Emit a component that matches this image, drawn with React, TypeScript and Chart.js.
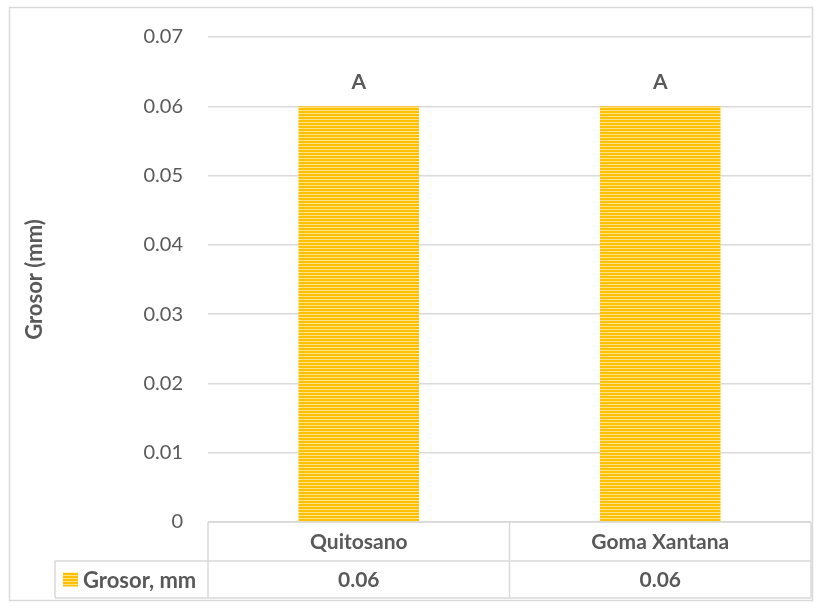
import React, { useEffect, useRef } from "react";
import { Chart, registerables } from "chart.js";

Chart.register(...registerables);

const categories = ["Quitosano", "Goma Xantana"];
const grosorValues = [0.06, 0.06];
const letterLabels = ["A", "A"];
const seriesName = "Grosor, mm";
const yAxisTitle = "Grosor (mm)";
const yMin = 0;
const yMax = 0.07;
const yStep = 0.01;

const FONT = "Lato, 'Open Sans', sans-serif";
const TEXT = "#595959";
const LINE = "#d9d9d9";

function makeStripes(ctx: CanvasRenderingContext2D): CanvasPattern | string {
  const c = document.createElement("canvas");
  c.width = 4;
  c.height = 3;
  const g = c.getContext("2d");
  if (!g) return "#FFC000";
  g.fillStyle = "#FFC000";
  g.fillRect(0, 0, 4, 2);
  g.fillStyle = "#FFE38C";
  g.fillRect(0, 2, 4, 1);
  return ctx.createPattern(c, "repeat") || "#FFC000";
}

const tablePlugin = {
  id: "dataTable",
  beforeDraw(chart: any) {
    const ctx = chart.ctx as CanvasRenderingContext2D;
    ctx.save();
    ctx.strokeStyle = LINE;
    ctx.lineWidth = 1.5;
    ctx.strokeRect(9.5, 7.5, 803, 593);
    ctx.restore();
  },
  afterDraw(chart: any) {
    const ctx = chart.ctx as CanvasRenderingContext2D;
    const area = chart.chartArea;
    const xs = chart.scales.x;
    const ys = chart.scales.y;
    const left = area.left;
    const right = area.right;
    const top = area.bottom;
    const row1 = top + 39;
    const row2 = row1 + 37;
    const legendLeft = 55;
    const colW = (right - left) / categories.length;

    ctx.save();
    ctx.strokeStyle = LINE;
    ctx.lineWidth = 1.5;
    ctx.beginPath();
    ctx.moveTo(left, top);
    ctx.lineTo(right, top);
    ctx.moveTo(legendLeft, row1);
    ctx.lineTo(right, row1);
    ctx.moveTo(legendLeft, row2);
    ctx.lineTo(right, row2);
    ctx.moveTo(legendLeft, row1);
    ctx.lineTo(legendLeft, row2);
    for (let i = 0; i <= categories.length; i++) {
      const x = left + colW * i;
      ctx.moveTo(x, top);
      ctx.lineTo(x, row2);
    }
    ctx.stroke();

    ctx.fillStyle = TEXT;
    ctx.font = `bold 21px ${FONT}`;
    ctx.textAlign = "center";
    ctx.textBaseline = "middle";
    categories.forEach((c, i) => {
      const cx = xs.getPixelForValue(i);
      ctx.fillText(c, cx, (top + row1) / 2 + 1);
      ctx.fillText(grosorValues[i].toFixed(2), cx, (row1 + row2) / 2 + 1);
    });

    // legend key inside the table
    ctx.fillStyle = chart.data.datasets[0].backgroundColor;
    ctx.fillRect(63, (row1 + row2) / 2 - 7, 15, 14);
    ctx.fillStyle = TEXT;
    ctx.textAlign = "left";
    ctx.font = `bold 22px ${FONT}`;
    ctx.fillText(seriesName, 83, (row1 + row2) / 2 + 1);

    // letters over the bars
    ctx.font = `bold 21px ${FONT}`;
    ctx.textAlign = "center";
    grosorValues.forEach((v, i) => {
      ctx.fillText(letterLabels[i], xs.getPixelForValue(i), ys.getPixelForValue(v) - 24);
    });

    // y-axis title
    ctx.font = `bold 22px ${FONT}`;
    ctx.translate(35, (area.top + area.bottom) / 2);
    ctx.rotate(-Math.PI / 2);
    ctx.fillText(yAxisTitle, 0, 0);
    ctx.restore();
  },
};

export default function App() {
  const ref = useRef<HTMLCanvasElement>(null);

  useEffect(() => {
    document.body.style.margin = "0";
    const canvas = ref.current;
    if (!canvas) return;
    const ctx = canvas.getContext("2d");
    if (!ctx) return;
    const fill = makeStripes(ctx);
    const chart = new Chart(canvas, {
      type: "bar",
      data: {
        labels: categories,
        datasets: [
          {
            label: seriesName,
            data: grosorValues,
            backgroundColor: fill as any,
            borderWidth: 0,
            barPercentage: 0.4,
            categoryPercentage: 1,
          },
        ],
      },
      options: {
        animation: false,
        responsive: false,
        maintainAspectRatio: false,
        devicePixelRatio: 1,
        layout: { padding: { left: 9, right: 18, top: 37, bottom: 89 } },
        plugins: {
          legend: { display: false },
          tooltip: { enabled: false },
          title: { display: false },
        },
        scales: {
          x: { display: false },
          y: {
            min: yMin,
            max: yMax,
            afterFit: (scale: any) => {
              scale.width = 199;
            },
            ticks: {
              stepSize: yStep,
              color: TEXT,
              font: { family: FONT, size: 20 },
              padding: 25,
              callback: (v: any) => (Number(v) === 0 ? "0" : Number(v).toFixed(2)),
            },
            grid: { color: LINE, lineWidth: 1.5, drawTicks: false },
            border: { display: false },
          },
        },
      },
      plugins: [tablePlugin],
    });
    return () => chart.destroy();
  }, []);

  return (
    <div style={{ width: 829, height: 611, position: "relative" }}>
      <canvas ref={ref} width={829} height={611} style={{ display: "block" }} />
    </div>
  );
}
